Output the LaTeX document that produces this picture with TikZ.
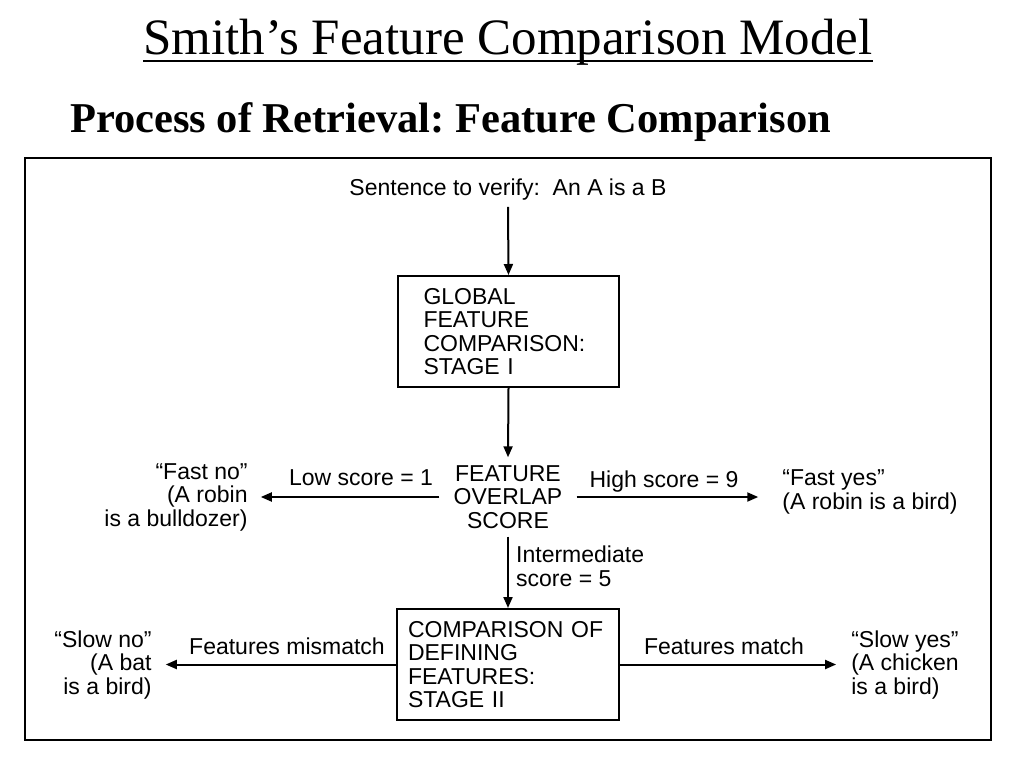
\documentclass[tikz,border=0pt]{standalone}
\usepackage{fontspec}
\setmainfont{Liberation Serif}
\newfontfamily\diafont{Liberation Sans}
\usetikzlibrary{arrows.meta}
\frenchspacing
\begin{document}
\begin{tikzpicture}[x=1pt,y=-1pt,
  txt/.style={font=\diafont\fontsize{23}{23.5}\selectfont,inner sep=0pt,align=center},
  stagebox/.style={draw,line width=2pt,font=\diafont\fontsize{23}{23.5}\selectfont,align=left,inner ysep=0pt},
  arr/.style={line width=2pt,-{Triangle[length=11pt,width=9pt]}}]
\useasboundingbox (0,0) rectangle (1024,768);
\fill[white] (0,0) rectangle (1024,768);
% titles
\node[anchor=base,font=\fontsize{51}{55}\selectfont,inner sep=0pt] (title) at (508,55) {Smith’s Feature Comparison Model};
\draw[line width=2pt] (title.base west) ++(0,6) -- ([yshift=-6pt]title.base east);
\node[anchor=base west,font=\bfseries\fontsize{42.5}{46}\selectfont,inner sep=0pt] (sub) at (70,132) {Process of Retrieval: Feature Comparison};
% frame
\draw[line width=2pt] (25,158) rectangle (991,740);
% nodes
\node[txt,inner sep=6pt] (sent) at (508,190) {Sentence to verify:\ \ An A is a B};
\node[stagebox,minimum width=221pt,minimum height=111pt,text width=170pt,inner xsep=25.5pt] (box1) at (508.5,331.5)
  {GLOBAL\\FEATURE\\COMPARISON:\\STAGE I};
\node[txt,inner xsep=14pt,inner ysep=8pt] (score) at (508,497) {FEATURE\\OVERLAP\\SCORE};
\node[txt,align=right,inner xsep=13pt] (fastno) at (176,497) {“Fast no”\\(A robin\\is a bulldozer)};
\node[txt,align=left,inner xsep=24pt] (fastyes) at (870,492) {“Fast yes”\\(A robin is a bird)};
\node[stagebox,minimum width=222pt,minimum height=111pt,text width=200pt,inner xsep=11pt] (box2) at (508,664.5)
  {COMPARISON OF\\DEFINING\\FEATURES:\\STAGE II};
\node[txt,align=right,inner xsep=14pt] (slowno) at (103,665) {“Slow no”\\(A bat\\is a bird)};
\node[txt,align=left,inner xsep=15pt] (slowyes) at (905,665) {“Slow yes”\\(A chicken\\is a bird)};
% edge labels
\node[txt] (low) at (361,478) {Low score = 1};
\node[txt] (high) at (664,482) {High score = 9};
\node[txt,align=left,anchor=west] (inter) at (516,566.5) {Intermediate\\score = 5};
\node[txt] (mis) at (287,646) {Features mismatch};
\node[txt] (mat) at (724,646) {Features match};
% connectors
\draw[arr] (sent.south) -- (box1.north);
\draw[arr] (box1.south) -- (score.north);
\draw[arr] (score.west) -- (fastno.east |- score.west);
\draw[arr] (score.east) -- (fastyes.west |- score.east);
\draw[arr] (score.south) -- (box2.north);
\draw[arr] (box2.west) -- (slowno.east |- box2.west);
\draw[arr] (box2.east) -- (slowyes.west |- box2.east);
\end{tikzpicture}
\end{document}
